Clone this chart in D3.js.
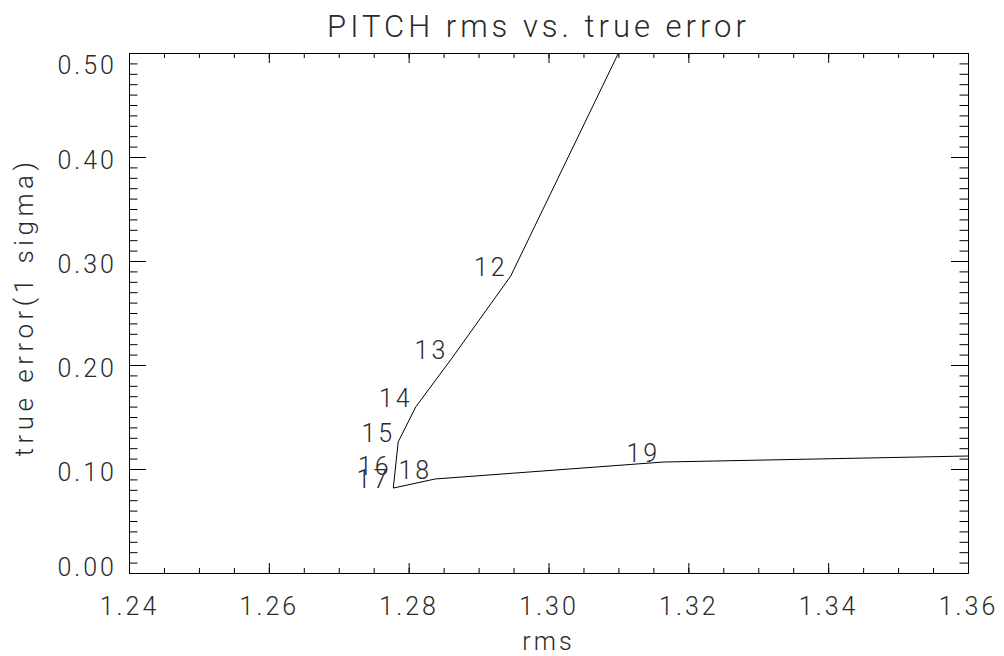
<!DOCTYPE html>
<html>
<head>
<meta charset="utf-8">
<script src="https://cdn.jsdelivr.net/npm/d3@7"></script>
<style>
  body { margin: 0; background: #fff; }
  text { font-family: Roboto, "DejaVu Sans", sans-serif; font-weight: 300; fill: #2a2a2a; }
  .axis path, .axis line { stroke: #000; stroke-width: 1; }
</style>
</head>
<body>
<svg id="chart" width="1004" height="656"></svg>
<script>
// data (points 11 and 20 lie outside the window, only the line shows)
const pointLabels = ["11", "12", "13", "14", "15", "16", "17", "18", "19", "20"];
const rmsValues = [1.3172, 1.2946, 1.2861, 1.2810, 1.2785, 1.2780, 1.2778, 1.2838, 1.3164, 1.4000];
const trueErrValues = [0.600, 0.2856, 0.2058, 0.1596, 0.1260, 0.0942, 0.0817, 0.0904, 0.1067, 0.1178];

const xMajorTicks = [1.24, 1.26, 1.28, 1.30, 1.32, 1.34, 1.36];
const yMajorTicks = [0.0, 0.1, 0.2, 0.3, 0.4, 0.5];

const titleText = "PITCH rms vs. true error";
const xTitle = "rms";
const yTitle = "true error(1 sigma)";

const svg = d3.select("#chart");
const plotLeft = 129, plotRight = 968, plotTop = 53, plotBottom = 573;

let x = d3.scaleLinear().domain([1.24, 1.36]).range([plotLeft, plotRight]);
let y = d3.scaleLinear().domain([0, 0.5]).range([plotBottom, plotTop]);

let xMinor = d3.range(1.24, 1.36001, 0.005);
let yMinor = d3.range(0, 0.50001, 0.01);

const xTickLen = 10, yTickLen = 17;

// minor ticks
svg.append("g").attr("class", "axis").attr("transform", `translate(0,${plotBottom})`)
  .call(d3.axisBottom(x).tickValues(xMinor).tickSize(-xTickLen / 2).tickSizeOuter(0).tickFormat(""));
svg.append("g").attr("class", "axis").attr("transform", `translate(0,${plotTop})`)
  .call(d3.axisTop(x).tickValues(xMinor).tickSize(-xTickLen / 2).tickSizeOuter(0).tickFormat(""));
svg.append("g").attr("class", "axis").attr("transform", `translate(${plotLeft},0)`)
  .call(d3.axisLeft(y).tickValues(yMinor).tickSize(-yTickLen / 2).tickSizeOuter(0).tickFormat(""));
svg.append("g").attr("class", "axis").attr("transform", `translate(${plotRight},0)`)
  .call(d3.axisRight(y).tickValues(yMinor).tickSize(-yTickLen / 2).tickSizeOuter(0).tickFormat(""));

// major ticks
let xAxis = svg.append("g").attr("class", "axis").attr("transform", `translate(0,${plotBottom})`)
  .call(d3.axisBottom(x).tickValues(xMajorTicks).tickSize(-xTickLen).tickSizeOuter(0).tickFormat(d3.format(".2f")));
xAxis.selectAll("text").attr("y", 42).attr("dy", 0).style("font-size", "25px").style("letter-spacing", "3px");

svg.append("g").attr("class", "axis").attr("transform", `translate(0,${plotTop})`)
  .call(d3.axisTop(x).tickValues(xMajorTicks).tickSize(-xTickLen).tickSizeOuter(0).tickFormat(""));

let yAxis = svg.append("g").attr("class", "axis").attr("transform", `translate(${plotLeft},0)`)
  .call(d3.axisLeft(y).tickValues(yMajorTicks).tickSize(-yTickLen).tickSizeOuter(0).tickFormat(d3.format(".2f")));
yAxis.selectAll("text")
  .attr("x", -12)
  .attr("dy", (d) => d === 0.5 ? 20 : d === 0 ? 2 : 11)
  .style("font-size", "25px").style("letter-spacing", "3px");

svg.append("g").attr("class", "axis").attr("transform", `translate(${plotRight},0)`)
  .call(d3.axisRight(y).tickValues(yMajorTicks).tickSize(-yTickLen).tickSizeOuter(0).tickFormat(""));

svg.selectAll(".axis text").attr("fill", "#2a2a2a");

// data line, clipped to the plot window
svg.append("clipPath").attr("id", "plot-clip")
  .append("rect").attr("x", plotLeft).attr("y", plotTop)
  .attr("width", plotRight - plotLeft).attr("height", plotBottom - plotTop);

let points = rmsValues.map((v, i) => ({ label: pointLabels[i], rms: v, err: trueErrValues[i] }));

svg.append("path")
  .datum(points)
  .attr("clip-path", "url(#plot-clip)")
  .attr("fill", "none")
  .attr("stroke", "#000")
  .attr("stroke-width", 1)
  .attr("d", d3.line().x((d) => x(d.rms)).y((d) => y(d.err)));

// point numbers, right aligned at each vertex (16 and 17 overlap as in the original)
let inside = points.filter((d) => d.rms >= 1.24 && d.rms <= 1.36 && d.err >= 0 && d.err <= 0.5);
svg.selectAll(".pt-label")
  .data(inside)
  .join("text")
  .attr("class", "pt-label")
  .attr("x", (d) => x(d.rms) - 3)
  .attr("y", (d) => y(d.err))
  .attr("text-anchor", "end")
  .style("font-size", "25px")
  .style("letter-spacing", "3px")
  .text((d) => d.label);

// titles
svg.append("text")
  .attr("x", (plotLeft + plotRight) / 2 - 10).attr("y", 37)
  .attr("text-anchor", "middle")
  .style("font-size", "31px").style("letter-spacing", "4px")
  .text(titleText);

svg.append("text")
  .attr("x", (plotLeft + plotRight) / 2).attr("y", 650)
  .attr("text-anchor", "middle")
  .style("font-size", "25px").style("letter-spacing", "3px")
  .text(xTitle);

svg.append("text")
  .attr("transform", `translate(33,${(plotTop + plotBottom) / 2 - 6}) rotate(-90)`)
  .attr("text-anchor", "middle")
  .style("font-size", "26px").style("letter-spacing", "4.5px")
  .text(yTitle);
</script>
</body>
</html>
